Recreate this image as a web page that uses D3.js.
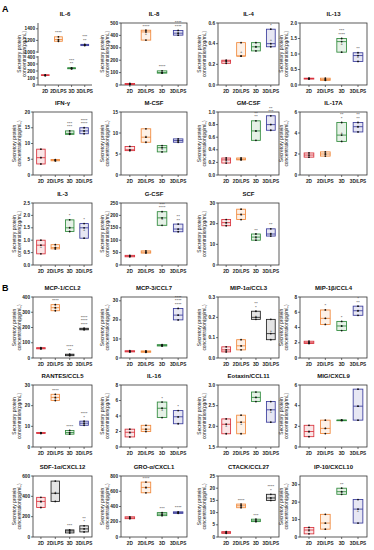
<!DOCTYPE html>
<html>
<head>
<meta charset="utf-8">
<script src="https://cdn.jsdelivr.net/npm/d3@7"></script>
<style>
  body { margin: 0; background: #fff; }
  svg { display: block; font-family: "Liberation Sans", Arial, sans-serif; }
</style>
</head>
<body>
<div id="chart"></div>
<script>
const groups = ['2D', '2D/LPS', '3D', '3D/LPS'];

const titles = ['IL-6', 'IL-8', 'IL-4', 'IL-13', 'IFN-γ', 'M-CSF', 'GM-CSF', 'IL-17A', 'IL-3', 'G-CSF', 'SCF',
  'MCP-1/CCL2', 'MCP-3/CCL7', 'MIP-1α/CCL3', 'MIP-1β/CCL4', 'RANTES/CCL5', 'IL-16', 'Eotaxin/CCL11',
  'MIG/CXCL9', 'SDF-1α/CXCL12', 'GRO-α/CXCL1', 'CTACK/CCL27', 'IP-10/CXCL10'];

// replicate values per group (2D, 2D/LPS, 3D, 3D/LPS)
const values = [
  [[135, 140, 146], [1185, 1215, 1262], [232, 240, 246], [1110, 1122, 1132]],
  [[4, 8, 12], [362, 428, 442], [96, 100, 114], [402, 418, 440]],
  [[0.21, 0.23, 0.24], [0.28, 0.28, 0.41], [0.33, 0.37, 0.41], [0.37, 0.40, 0.54]],
  [[0.19, 0.21, 0.22], [0.15, 0.18, 0.22], [1.06, 1.40, 1.50], [0.76, 0.95, 1.04]],
  [[3.5, 5.5, 8.2], [4.5, 4.7, 4.9], [12.9, 13.2, 14.0], [13.1, 14.0, 15.0]],
  [[5.8, 6.0, 6.8], [7.8, 9.0, 11.0], [5.5, 6.5, 7.0], [7.8, 8.2, 8.6]],
  [[0.19, 0.24, 0.27], [0.24, 0.25, 0.27], [0.55, 0.70, 0.86], [0.71, 0.80, 0.94]],
  [[1.7, 1.9, 2.1], [1.8, 2.0, 2.2], [3.2, 3.8, 5.0], [4.1, 4.6, 5.0]],
  [[0.45, 0.8, 1.0], [0.65, 0.7, 0.82], [1.35, 1.5, 1.82], [1.08, 1.5, 1.67]],
  [[33, 36, 39], [48, 52, 57], [160, 190, 215], [134, 145, 165]],
  [[19, 20.5, 22], [22, 24.5, 27], [12, 13.5, 15], [14, 15, 17.5]],
  [[60, 63, 68], [310, 330, 350], [15, 20, 25], [185, 190, 195]],
  [[3.2, 3.5, 3.8], [3.0, 3.4, 3.7], [6.3, 6.6, 7.0], [20, 22.5, 26]],
  [[0.03, 0.04, 0.055], [0.04, 0.06, 0.09], [0.19, 0.20, 0.23], [0.09, 0.12, 0.19]],
  [[1.9, 2.0, 2.2], [4.4, 5.2, 6.3], [3.6, 4.2, 4.8], [5.6, 6.2, 6.8]],
  [[6.5, 6.8, 7.0], [22.5, 24, 25.5], [6.2, 7.0, 8.0], [10.5, 11.5, 12.5]],
  [[1.3, 1.9, 2.3], [2.0, 2.3, 2.8], [3.8, 5.0, 5.8], [3.0, 3.9, 4.7]],
  [[1.82, 2.05, 2.18], [1.82, 2.1, 2.27], [2.6, 2.7, 2.83], [2.1, 2.4, 2.6]],
  [[1.0, 1.5, 2.1], [1.3, 1.8, 2.6], [2.6, 2.6, 2.6], [2.6, 3.95, 5.6]],
  [[290, 350, 390], [350, 430, 550], [40, 60, 70], [50, 80, 110]],
  [[240, 250, 265], [580, 650, 720], [280, 300, 320], [310, 320, 330]],
  [[1.5, 1.8, 2.2], [12, 12.8, 13.5], [6.3, 6.6, 7.3], [15, 16, 17.5]],
  [[1.8, 4, 5.5], [4.5, 8, 13], [24.5, 26, 28], [8, 16, 21.5]]
];

const yTicks = [
  [0, 100, 200, 300, 400, 1000, 1200, 1400],
  [0, 100, 200, 300, 400, 500],
  [0.0, 0.2, 0.4, 0.6],
  [0.0, 0.5, 1.0, 1.5, 2.0],
  [0, 5, 10, 15, 20],
  [0, 5, 10, 15],
  [0.0, 0.2, 0.4, 0.6, 0.8, 1.0],
  [0, 2, 4, 6],
  [0.0, 0.5, 1.0, 1.5, 2.0, 2.5],
  [0, 50, 100, 150, 200, 250],
  [0, 10, 20, 30],
  [0, 100, 200, 300, 400],
  [0, 10, 20, 30],
  [0.0, 0.1, 0.2, 0.3],
  [0, 2, 4, 6, 8],
  [0, 10, 20, 30],
  [0, 2, 4, 6, 8],
  [1.5, 2.0, 2.5, 3.0],
  [0, 2, 4, 6],
  [0, 200, 400, 600],
  [0, 200, 400, 600, 800],
  [0, 5, 10, 15, 20, 25],
  [0, 10, 20, 30]
];

const yMax = [1500, 500, 0.6, 2.0, 20, 15, 1.0, 6, 2.5, 250, 30, 400, 32, 0.3, 8, 30, 8, 3.0, 6, 600, 800, 25, 35];

// significance marks, listed top line first
const stars = [
  [[], ['****'], ['***', '**'], ['***', '**']],
  [[], ['****'], ['****'], ['****', '****']],
  [[], [], [], ['*']],
  [[], [], ['***', '****'], ['**']],
  [[], [], ['***', '***'], ['****', '****']],
  [[], [], [], []],
  [[], [], ['**', '**'], ['**', '***']],
  [[], [], ['**', '*'], ['**', '**']],
  [[], [], ['*'], ['*']],
  [[], [], ['***', '****'], ['**', '**']],
  [[], [], ['**'], ['**']],
  [[], ['****'], ['****', '**'], ['****', '****', '****']],
  [[], [], [], ['****', '****', '****']],
  [[], [], ['**', '*'], []],
  [[], ['*'], ['*'], ['*', '**']],
  [[], ['****'], ['****'], ['****', '*']],
  [[], [], ['*'], ['*']],
  [[], [], [], []],
  [[], [], [], []],
  [[], [], ['***'], ['**', '*']],
  [[], ['****'], ['***'], ['****']],
  [[], ['****'], ['***'], ['****', '*']],
  [[], [], ['**'], []]
];

// box colour keys per panel: r red, o orange, g green, b blue, k black
const colorKeys = ['rogb', 'rogb', 'rogb', 'rogb', 'rogb', 'rogb', 'rogb', 'rogb', 'rogb', 'rogb', 'rogb',
  'rokk', 'rogb', 'rokk', 'rogb', 'rogb', 'rogb', 'rogb', 'rogb', 'rkkk', 'rogb', 'rogk', 'rogb'];

const palette = { r: '#d8323c', o: '#f0883a', g: '#2f8a3c', b: '#3a3c9c', k: '#222222' };

const W = 374, H = 550;
const rowTop = [23, 112, 203, 297, 385, 476];
const rowBottom = [85, 175, 265, 358, 447, 537];
const colLeft = [33, 121, 218, 300];
const colWidth = [59, 66, 61, 67];

const svg = d3.select('#chart').append('svg')
  .attr('width', W)
  .attr('height', H);

svg.append('text').attr('x', 2).attr('y', 12).text('A')
  .attr('font-size', 9).attr('font-weight', 'bold');
svg.append('text').attr('x', 2).attr('y', 291).text('B')
  .attr('font-size', 9).attr('font-weight', 'bold');

// GraphPad style quantile: position (n+1)p
function gpQuantile(sorted, p) {
  const n = sorted.length;
  let h = (n + 1) * p;
  h = Math.max(1, Math.min(n, h));
  const lo = Math.floor(h), frac = h - lo;
  if (lo >= n) return sorted[n - 1];
  return sorted[lo - 1] + frac * (sorted[lo] - sorted[lo - 1]);
}

function drawPanel(i) {
  let row, col;
  if (i < 11) { row = Math.floor(i / 4); col = i % 4; }
  else { row = 3 + Math.floor((i - 11) / 4); col = (i - 11) % 4; }

  let left = colLeft[col], width = colWidth[col];
  if (i === 0) { left = 38; width = 54; }
  const top = rowTop[row], bottom = rowBottom[row];
  const g = svg.append('g');

  const x = d3.scaleBand().domain(groups).range([left, left + width]).paddingInner(0.2).paddingOuter(0.15);

  let y;
  if (i === 0) {
    const lower = d3.scaleLinear().domain([0, 400]).range([bottom, 57]);
    const upper = d3.scaleLinear().domain([1000, 1500]).range([52, top]);
    y = v => v >= 700 ? upper(v) : lower(v);
  } else {
    y = d3.scaleLinear().domain([yTicks[i][0], yMax[i]]).range([bottom, top]);
  }

  // title
  g.append('text')
    .attr('x', left + width / 2).attr('y', top - 7)
    .attr('text-anchor', 'middle')
    .attr('font-size', 6).attr('font-weight', 'bold')
    .attr('fill', '#111')
    .text(titles[i]);

  // y label
  const cy = (top + bottom) / 2;
  const lab = g.append('text')
    .attr('transform', `translate(${left - 17},${cy}) rotate(-90)`)
    .attr('text-anchor', 'middle')
    .attr('font-size', 4.9).attr('fill', '#222');
  lab.append('tspan').attr('x', 0).attr('dy', 0).text('Secretory protein');
  lab.append('tspan').attr('x', 0).attr('dy', 5.2).text('concentration(pg/mL)');

  // frame / axes
  const ax = '#333';
  if (i === 0) {
    g.append('line').attr('x1', left).attr('x2', left).attr('y1', bottom).attr('y2', y(400) - 1).attr('stroke', ax).attr('stroke-width', 0.8);
    g.append('line').attr('x1', left).attr('x2', left).attr('y1', y(1000) + 1).attr('y2', top).attr('stroke', ax).attr('stroke-width', 0.8);
    g.append('line').attr('x1', left).attr('x2', left + width).attr('y1', bottom).attr('y2', bottom).attr('stroke', ax).attr('stroke-width', 0.8);
  } else {
    g.append('rect').attr('x', left).attr('y', top).attr('width', width).attr('height', bottom - top)
      .attr('fill', 'none').attr('stroke', ax).attr('stroke-width', 0.8);
  }

  // y ticks
  const fmt = yTicks[i].some(t => !Number.isInteger(t)) ? d3.format('.1f') : d3.format('d');
  yTicks[i].forEach(t => {
    const ty = y(t);
    g.append('line').attr('x1', left - 2).attr('x2', left).attr('y1', ty).attr('y2', ty)
      .attr('stroke', ax).attr('stroke-width', 0.7);
    g.append('text').attr('x', left - 3).attr('y', ty + 1.6)
      .attr('text-anchor', 'end').attr('font-size', 4.7).attr('font-weight', 'bold').attr('fill', '#222')
      .text(fmt(t));
  });

  // x ticks and labels
  groups.forEach(c => {
    const cx = x(c) + x.bandwidth() / 2;
    g.append('line').attr('x1', cx).attr('x2', cx).attr('y1', bottom).attr('y2', bottom + 2)
      .attr('stroke', ax).attr('stroke-width', 0.7);
    g.append('text').attr('x', cx).attr('y', bottom + 7.5)
      .attr('text-anchor', 'middle').attr('font-size', 4.7).attr('font-weight', 'bold').attr('fill', '#222')
      .text(c);
  });

  // boxes
  values[i].forEach((vals, k) => {
    const c = groups[k];
    const color = palette[colorKeys[i][k]];
    const sorted = vals.slice().sort(d3.ascending);
    const q1 = gpQuantile(sorted, 0.25), med = d3.median(sorted), q3 = gpQuantile(sorted, 0.75);
    const mn = sorted[0], mx = sorted[sorted.length - 1], mean = d3.mean(sorted);
    const bw = x.bandwidth() * 0.74;
    const cx = x(c) + x.bandwidth() / 2;

    g.append('line').attr('x1', cx).attr('x2', cx).attr('y1', y(mx)).attr('y2', y(q3)).attr('stroke', color).attr('stroke-width', 0.7);
    g.append('line').attr('x1', cx).attr('x2', cx).attr('y1', y(mn)).attr('y2', y(q1)).attr('stroke', color).attr('stroke-width', 0.7);
    g.append('rect')
      .attr('x', cx - bw / 2).attr('y', y(q3))
      .attr('width', bw).attr('height', Math.max(0.6, y(q1) - y(q3)))
      .attr('fill', color).attr('fill-opacity', 0.12)
      .attr('stroke', color).attr('stroke-width', 0.85);
    g.append('line').attr('x1', cx - bw / 2).attr('x2', cx + bw / 2).attr('y1', y(med)).attr('y2', y(med))
      .attr('stroke', color).attr('stroke-width', 0.85);

    // mean marker
    g.append('text').attr('x', cx).attr('y', y(mean) + 1.4)
      .attr('text-anchor', 'middle').attr('font-size', 4).attr('fill', '#222').text('+');

    // points
    g.selectAll(null).data(sorted).enter().append('circle')
      .attr('cx', cx).attr('cy', d => y(d)).attr('r', 0.9).attr('fill', '#111');

    // significance
    const lines = stars[i][k].slice().reverse();
    lines.forEach((s, j) => {
      g.append('text')
        .attr('x', cx).attr('y', y(mx) - 2.5 - j * 3.6)
        .attr('text-anchor', 'middle').attr('font-size', 4.4).attr('fill', '#333')
        .text(s);
    });
  });
}

titles.forEach((t, i) => drawPanel(i));
</script>
</body>
</html>
